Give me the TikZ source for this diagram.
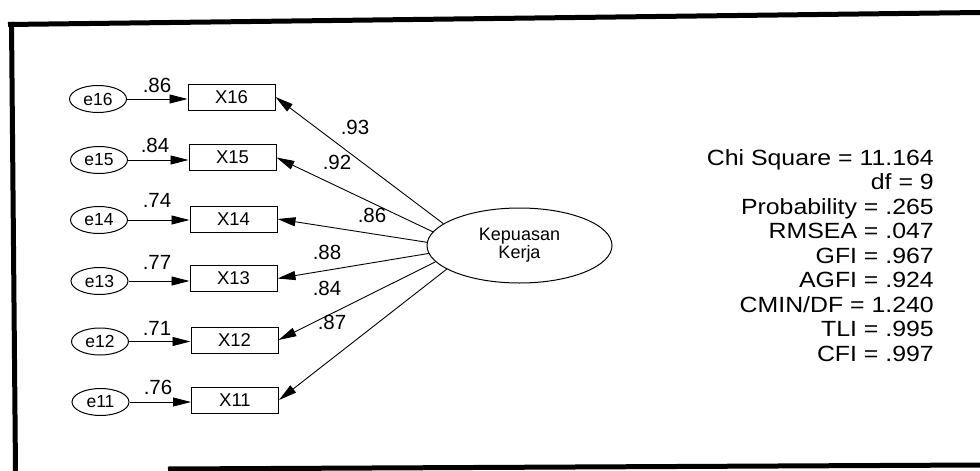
\documentclass[tikz,border=0pt]{standalone}
\usepackage{fontspec}
\setmainfont{Liberation Sans}
\newfontfamily\statfont[FakeStretch=1.13]{Liberation Sans}
\usetikzlibrary{arrows.meta,shapes.geometric}
\begin{document}
\begin{tikzpicture}[x=1pt,y=-1pt,
  frameline/.style={line width=5pt},
  errnode/.style={ellipse, draw, line width=1pt, minimum width=57pt, minimum height=27pt,
    inner sep=0pt, font=\fontsize{17.5}{17.5}\selectfont},
  obsnode/.style={rectangle, draw, line width=1pt, minimum width=87pt, minimum height=26pt,
    inner sep=0pt, font=\fontsize{18.5}{18.5}\selectfont},
  latnode/.style={ellipse, draw, line width=1pt, minimum width=185pt, minimum height=75pt,
    inner sep=0pt, align=center, font=\fontsize{18}{18}\selectfont},
  coef/.style={inner sep=0pt, font=\fontsize{20.5}{20.5}\selectfont},
  stat/.style={inner sep=0pt, anchor=base east, font=\statfont\fontsize{22}{24}\selectfont},
  regpath/.style={line width=0.9pt, -{Triangle[length=18pt,width=9pt]}}
]
\useasboundingbox (0,0) rectangle (980,471);

% outer frame
\draw[frameline] (8,24.5) -- (980,12.5);
\draw[frameline] (11.5,22) -- (15.5,471);
\draw[frameline] (168,469) -- (980,465);

% latent variable
\node[latnode] (K) at (519.5,245.5) {Kepuasan\\Kerja};

% indicators and their error terms
\node[obsnode] (X16) at (231.5,97)    {X16};
\node[obsnode] (X15) at (232.5,157.5) {X15};
\node[obsnode] (X14) at (233.5,219)   {X14};
\node[obsnode] (X13) at (233.5,278.5) {X13};
\node[obsnode] (X12) at (234.5,340)   {X12};
\node[obsnode] (X11) at (235,400)     {X11};

\node[errnode] (e16) at (98,99)      {e16};
\node[errnode] (e15) at (99,160)     {e15};
\node[errnode] (e14) at (99,220)     {e14};
\node[errnode] (e13) at (99.5,281)   {e13};
\node[errnode] (e12) at (100,341.5)  {e12};
\node[errnode] (e11) at (100.5,402)  {e11};

% error paths
\foreach \i in {16,15,14,13,12,11}
  \draw[regpath] (e\i.east) -- (e\i.east -| X\i.west);

% loadings
\draw[regpath] (K.164) -- (X16.east);
\draw[regpath] (K.171) -- (X15.east);
\draw[regpath] (K.178) -- (X14.east);
\draw[regpath] (K.185) -- (X13.east);
\draw[regpath] (K.191) -- (X12.east);
\draw[regpath] (K.198) -- (X11.east);

% coefficient labels
\node[coef] (c16) at (157,85)  {.86};
\node[coef] (c15) at (155,145) {.84};
\node[coef] (c14) at (157,200) {.74};
\node[coef] (c13) at (157,262) {.77};
\node[coef] (c12) at (157,328) {.71};
\node[coef] (c11) at (158,387) {.76};

\node[coef] (l16) at (355,127) {.93};
\node[coef] (l15) at (337,162) {.92};
\node[coef] (l14) at (372,215) {.86};
\node[coef] (l13) at (327,252) {.88};
\node[coef] (l12) at (327,288) {.84};
\node[coef] (l11) at (332,322) {.87};

% fit statistics
\foreach \t [count=\k from 0] in {Chi Square = 11.164, df = 9, Probability = .265,
    RMSEA = .047, GFI = .967, AGFI = .924, CMIN/DF = 1.240, TLI = .995, CFI = .997}
  \node[stat] (s\k) at (934,{165+24.5*\k}) {\t};
\end{tikzpicture}
\end{document}
